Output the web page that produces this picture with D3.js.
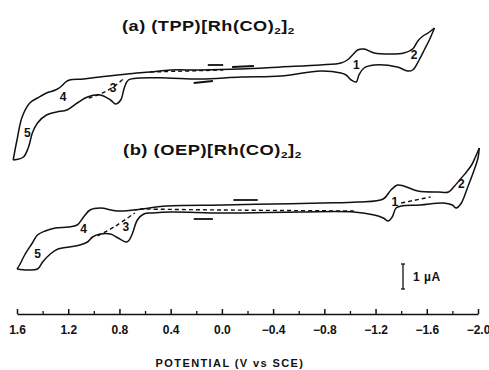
<!DOCTYPE html>
<html>
<head>
<meta charset="utf-8">
<script src="https://cdn.jsdelivr.net/npm/d3@7"></script>
<style>
  body { margin: 0; background: #fff; }
  text { font-family: "Liberation Sans", Arial, sans-serif; font-weight: bold; fill: #111; }
</style>
</head>
<body>
<div id="chart"></div>
<script>
// potential (V vs SCE), current (uA, relative to each trace's baseline)
const aUpper = [[1.63,-3.40],[1.60,-2.60],[1.56,-1.68],[1.50,-1.12],[1.44,-0.92],[1.37,-0.72],[1.30,-0.60],
  [1.26,-0.48],[1.22,-0.28],[1.19,-0.20],[1.08,-0.16],[0.95,-0.08],[0.74,0.04],[0.56,0.12],[0.40,0.20],
  [0.17,0.20],[-0.15,0.24],[-0.46,0.32],[-0.77,0.40],[-0.93,0.48],[-0.98,0.60],[-1.02,0.80],[-1.06,1.00],
  [-1.11,1.04],[-1.19,0.88],[-1.32,0.84],[-1.42,0.88],[-1.49,1.04],[-1.53,1.36],[-1.57,1.56],[-1.61,1.68],[-1.66,1.88]];
const aLower = [[1.63,-3.40],[1.55,-3.28],[1.51,-2.88],[1.48,-2.32],[1.44,-1.92],[1.37,-1.60],[1.29,-1.48],
  [1.21,-1.40],[1.13,-1.12],[1.05,-0.88],[0.95,-0.80],[0.87,-1.00],[0.83,-1.16],[0.79,-1.00],[0.76,-0.48],
  [0.73,-0.20],[0.64,-0.12],[0.43,-0.12],[0.17,-0.16],[-0.15,-0.08],[-0.46,-0.04],[-0.77,0.16],[-0.93,0.08],
  [-0.97,0.00],[-1.01,-0.20],[-1.05,-0.28],[-1.07,0.00],[-1.11,0.28],[-1.19,0.40],[-1.37,0.32],[-1.45,0.16],
  [-1.49,0.20],[-1.54,0.60],[-1.58,1.00],[-1.62,1.40],[-1.66,1.88]];
const aDashed = [[[1.04,-0.92],[0.95,-0.76],[0.86,-0.52],[0.76,-0.12]], [[0.56,0.12],[-0.01,0.20]]];
const aMarks = [[[0.11,0.40],[-0.01,0.40]], [[-0.08,0.32],[-0.25,0.36]], [[0.22,-0.32],[0.07,-0.24]]];
const aPeaks = [["1",-1.05,0.40],["2",-1.50,0.80],["3",0.85,-0.52],["4",1.24,-0.88],["5",1.52,-2.32]];

const bUpper = [[1.60,-2.36],[1.58,-2.20],[1.54,-1.80],[1.48,-1.32],[1.44,-1.00],[1.38,-0.84],[1.30,-0.72],
  [1.20,-0.68],[1.13,-0.60],[1.08,-0.28],[1.03,0.00],[0.95,0.08],[0.82,-0.04],[0.69,0.00],[0.43,0.16],
  [-0.01,0.20],[-0.40,0.24],[-0.79,0.28],[-1.06,0.32],[-1.26,0.44],[-1.32,0.80],[-1.37,1.00],[-1.42,0.96],
  [-1.53,0.76],[-1.69,0.72],[-1.77,0.72],[-1.81,0.92],[-1.87,1.28],[-1.91,1.52],[-1.95,1.80],[-1.98,2.12],[-2.01,2.48]];
const bLower = [[1.60,-2.36],[1.52,-2.40],[1.44,-2.36],[1.40,-2.08],[1.34,-1.76],[1.28,-1.56],[1.19,-1.48],
  [1.11,-1.40],[1.05,-1.28],[1.01,-1.08],[0.95,-0.96],[0.87,-0.96],[0.81,-1.12],[0.75,-1.28],[0.73,-1.24],
  [0.70,-0.96],[0.66,-0.40],[0.61,-0.16],[0.54,-0.12],[0.40,-0.08],[-0.01,-0.12],[-0.61,-0.08],[-1.03,-0.08],
  [-1.19,-0.20],[-1.26,-0.32],[-1.30,-0.44],[-1.33,-0.28],[-1.36,0.08],[-1.40,0.16],[-1.55,0.20],[-1.73,0.28],
  [-1.80,0.20],[-1.83,0.08],[-1.87,0.28],[-1.92,0.92],[-1.97,1.60],[-2.00,2.08],[-2.01,2.48]];
const bDashed = [[[0.97,-1.04],[0.83,-0.64],[0.68,-0.12]], [[0.64,0.04],[-0.01,0.00],[-1.03,-0.04]],
  [[-1.40,0.28],[-1.63,0.52]]];
const bMarks = [[[-0.09,0.40],[-0.28,0.40]], [[0.22,-0.36],[0.07,-0.36]]];
const bPeaks = [["1",-1.35,0.32],["2",-1.87,1.04],["3",0.75,-0.68],["4",1.08,-0.76],["5",1.44,-1.76]];

const majorTicks = [1.6, 1.2, 0.8, 0.4, 0.0, -0.4, -0.8, -1.2, -1.6, -2.0];
const minorTicks = [1.4, 1.0, 0.6, 0.2, -0.2, -0.6, -1.0, -1.4, -1.8];

const width = 489, height = 370;
const svg = d3.select("#chart").append("svg")
  .attr("width", width).attr("height", height);

const x = d3.scaleLinear().domain([1.6, -2.0]).range([17, 478]);
const yA = d3.scaleLinear().domain([0, 1]).range([75, 50]);
const yB = d3.scaleLinear().domain([0, 1]).range([210, 185]);

function drawTrace(y, upper, lower, dashed, marks, peaks) {
  const line = d3.line().x(d => x(d[0])).y(d => y(d[1])).curve(d3.curveCatmullRom.alpha(0.5));
  const straight = d3.line().x(d => x(d[0])).y(d => y(d[1]));
  svg.append("path").attr("d", line(upper))
    .attr("fill", "none").attr("stroke", "#111").attr("stroke-width", 1.5);
  svg.append("path").attr("d", line(lower))
    .attr("fill", "none").attr("stroke", "#111").attr("stroke-width", 1.5);
  dashed.forEach(seg => {
    svg.append("path").attr("d", line(seg))
      .attr("fill", "none").attr("stroke", "#111").attr("stroke-width", 1.4)
      .attr("stroke-dasharray", "4,3");
  });
  marks.forEach(seg => {
    svg.append("path").attr("d", straight(seg))
      .attr("fill", "none").attr("stroke", "#111").attr("stroke-width", 1.8);
  });
  svg.selectAll(null).data(peaks).enter().append("text")
    .attr("x", d => x(d[1])).attr("y", d => y(d[2]))
    .attr("text-anchor", "middle").attr("dy", "0.35em")
    .style("font-size", "12px")
    .text(d => d[0]);
}

drawTrace(yA, aUpper, aLower, aDashed, aMarks, aPeaks);
drawTrace(yB, bUpper, bLower, bDashed, bMarks, bPeaks);

// titles, widened to the width they take in the figure
function title(xp, yp, label, ligand, targetW) {
  const t = svg.append("text").style("font-size", "14px").style("letter-spacing", "0.4px");
  t.append("tspan").text(`(${label}) (${ligand})[Rh(CO)`);
  t.append("tspan").attr("dy", 3).style("font-size", "9px").text("2");
  t.append("tspan").attr("dy", -3).text("]");
  t.append("tspan").attr("dy", 3).style("font-size", "9px").text("2");
  const w = t.node().getComputedTextLength();
  t.attr("transform", `translate(${xp},${yp}) scale(${targetW / w},1)`);
}
title(122, 31, "a", "TPP", 173);
title(123, 155, "b", "OEP", 179);

// axis
const axisY = 314;
const axis = svg.append("g").attr("transform", `translate(0,${axisY})`)
  .call(d3.axisBottom(x).tickValues(majorTicks).tickFormat(d3.format(".1f"))
    .tickSizeInner(-5).tickSizeOuter(0).tickPadding(11));
axis.select(".domain").attr("stroke", "#111").attr("stroke-width", 1.5);
axis.selectAll(".tick line").attr("stroke", "#111").attr("stroke-width", 1.5);
axis.selectAll(".tick text").style("font-size", "12px").style("font-family", "Liberation Sans, Arial, sans-serif")
  .style("font-weight", "bold").attr("fill", "#111");

const minor = svg.append("g").attr("transform", `translate(0,${axisY})`)
  .call(d3.axisBottom(x).tickValues(minorTicks).tickFormat("").tickSizeInner(-3).tickSizeOuter(0));
minor.select(".domain").remove();
minor.selectAll(".tick line").attr("stroke", "#111").attr("stroke-width", 1.3);

svg.append("text").attr("x", 230).attr("y", 367).attr("text-anchor", "middle")
  .style("font-size", "11px").style("letter-spacing", "1.4px")
  .text("POTENTIAL (V vs SCE)");

// 1 uA scale bar
const barX = 403, barTop = 264;
const barLen = yA(0) - yA(1);
const bar = svg.append("g").attr("stroke", "#111").attr("stroke-width", 1.3);
bar.append("line").attr("x1", barX).attr("x2", barX).attr("y1", barTop).attr("y2", barTop + barLen);
bar.append("line").attr("x1", barX - 2).attr("x2", barX + 2).attr("y1", barTop).attr("y2", barTop);
bar.append("line").attr("x1", barX - 2).attr("x2", barX + 2).attr("y1", barTop + barLen).attr("y2", barTop + barLen);
svg.append("text").attr("x", barX + 10).attr("y", barTop + barLen / 2 + 4)
  .style("font-size", "12px").style("letter-spacing", "0.5px").text("1 \u00B5A");
</script>
</body>
</html>
